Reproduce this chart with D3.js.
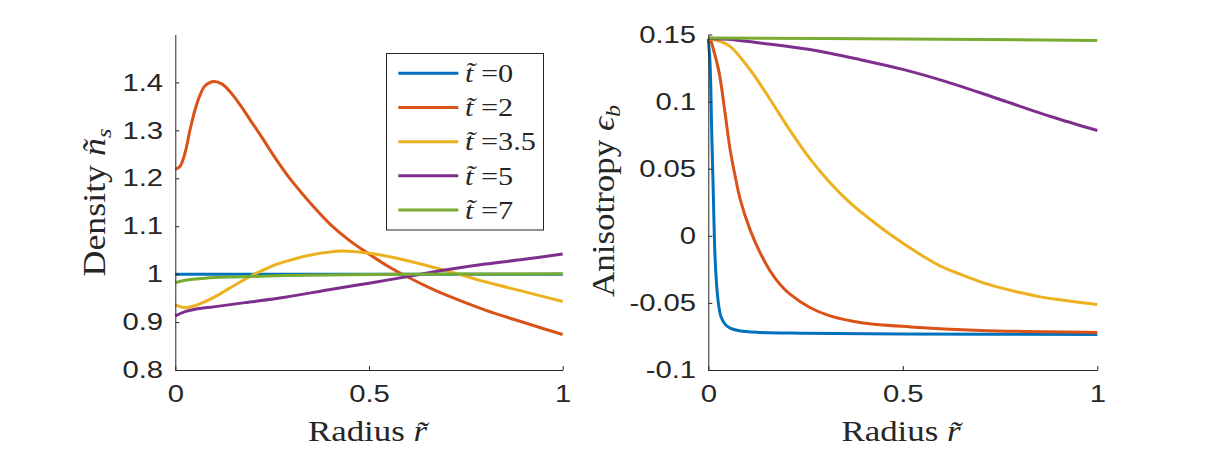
<!DOCTYPE html>
<html>
<head>
<meta charset="utf-8">
<script src="https://cdn.jsdelivr.net/npm/d3@7"></script>
<style>
  body { margin: 0; background: #fff; }
  svg { display: block; }
</style>
</head>
<body>
<svg id="fig" width="1212" height="454"></svg>
<script>
'use strict';

// legend labels and series colours (MATLAB default order)
var timeLabels = ['0', '2', '3.5', '5', '7'];
var seriesColors = ['#0072BD', '#D95319', '#EDB120', '#7E2F8E', '#77AC30'];

// tick values
var radiusTicks = [0, 0.5, 1];
var densityTicks = [0.8, 0.9, 1, 1.1, 1.2, 1.3, 1.4];
var anisotropyTicks = [-0.1, -0.05, 0, 0.05, 0.1, 0.15];

// left panel: density n_s against radius r, one [r, n] list per time
var density_t0 = [[0, 1.0], [0.5, 1.0], [1, 1.0]];
var density_t2 = [[0, 1.219], [0.012, 1.2246], [0.025, 1.2525], [0.038, 1.301], [0.051, 1.343],
  [0.064, 1.374], [0.077, 1.393], [0.098, 1.402], [0.12, 1.397], [0.141, 1.381], [0.167, 1.3535],
  [0.193, 1.322], [0.219, 1.291], [0.244, 1.2595], [0.27, 1.228], [0.3, 1.195], [0.35, 1.147],
  [0.4, 1.104], [0.45, 1.07], [0.5, 1.042], [0.55, 1.016], [0.6, 0.994], [0.65, 0.974],
  [0.7, 0.956], [0.8, 0.925], [0.9, 0.899], [1, 0.874]];
var density_t35 = [[0, 0.9358], [0.025, 0.930], [0.051, 0.9343], [0.077, 0.9427], [0.103, 0.953],
  [0.128, 0.965], [0.154, 0.9775], [0.18, 0.9894], [0.206, 1.0005], [0.232, 1.0103],
  [0.257, 1.0193], [0.283, 1.0262], [0.35, 1.040], [0.43, 1.0484], [0.5, 1.0436], [0.55, 1.037],
  [0.6, 1.028], [0.7, 1.007], [0.8, 0.984], [0.9, 0.9635], [1, 0.943]];
var density_t5 = [[0, 0.9128], [0.025, 0.9218], [0.051, 0.9267], [0.103, 0.9322], [0.18, 0.9406],
  [0.283, 0.9518], [0.4, 0.968], [0.5, 0.981], [0.6, 0.995], [0.7, 1.009], [0.8, 1.021],
  [0.9, 1.031], [1, 1.042]];
var density_t7 = [[0, 0.9824], [0.025, 0.9873], [0.077, 0.9915], [0.154, 0.9942], [0.283, 0.997],
  [0.5, 0.999], [1, 1.001]];

// right panel: anisotropy eps_b against radius r
var aniso_t0 = [[0, 0.1468], [0.0044, 0.129], [0.0087, 0.079], [0.013, 0.0296], [0.0172, -0.015],
  [0.0216, -0.0373], [0.0257, -0.0497], [0.032, -0.0597], [0.043, -0.0658], [0.056, -0.0688],
  [0.08, -0.0708], [0.13, -0.072], [0.24, -0.0726], [0.5, -0.0731], [1, -0.0735]];
var aniso_t2 = [[0, 0.1468], [0.006, 0.1455], [0.013, 0.139], [0.028, 0.1214], [0.043, 0.0917],
  [0.056, 0.0644], [0.069, 0.0445], [0.082, 0.0272], [0.107, 0.0048], [0.133, -0.0125],
  [0.159, -0.0262], [0.184, -0.0361], [0.21, -0.0435], [0.261, -0.0534], [0.313, -0.0597],
  [0.39, -0.0646], [0.52, -0.0679], [0.7, -0.0705], [1, -0.072]];
var aniso_t35 = [[0, 0.1468], [0.03, 0.145], [0.056, 0.1412], [0.107, 0.1239], [0.159, 0.1016],
  [0.21, 0.0785], [0.261, 0.0575], [0.313, 0.0396], [0.364, 0.0247], [0.416, 0.0123],
  [0.467, 0.0011], [0.544, -0.0138], [0.596, -0.0225], [0.647, -0.0286], [0.698, -0.0341],
  [0.75, -0.0386], [0.801, -0.0423], [0.853, -0.0455], [0.904, -0.0477], [0.956, -0.0497],
  [1, -0.0512]];
var aniso_t5 = [[0, 0.1468], [0.05, 0.1465], [0.133, 0.1437], [0.261, 0.1388], [0.39, 0.1313],
  [0.5, 0.124], [0.621, 0.114], [0.75, 0.1016], [0.878, 0.0891], [1, 0.0785]];
var aniso_t7 = [[0, 0.1474], [0.5, 0.1467], [1, 0.1455]];

var ink = '#262626';
var svg = d3.select('#fig');

var panels = [
  { left: 175.3, right: 562.7, domain: [0.8, 1.5], ticks: densityTicks,
    series: [density_t0, density_t2, density_t35, density_t5, density_t7],
    xLabelX: 367.5, yLabelX: 105, yLabelY: 202.5, yLabelLen: 148,
    yLabel: ['Density ', 'ñ', 's'] },
  { left: 708.3, right: 1097.3, domain: [-0.1, 0.15], ticks: anisotropyTicks,
    series: [aniso_t0, aniso_t2, aniso_t35, aniso_t5, aniso_t7],
    xLabelX: 901, yLabelX: 614, yLabelY: 201, yLabelLen: 192,
    yLabel: ['Anisotropy ', 'ϵ', 'b'] }
];
var plotTop = 34.5, plotBottom = 370;

function styleTicks(g) {
  g.attr('color', ink);
  g.selectAll('.domain').attr('stroke-width', 1);
  g.selectAll('.tick line').attr('stroke-width', 1);
  g.selectAll('.tick text')
    .attr('font-family', '"Liberation Sans", Arial, sans-serif')
    .attr('font-size', 24)
    .attr('fill', ink)
    .attr('transform', 'scale(1.22,1)');
}

panels.forEach(function(p) {
  var x = d3.scaleLinear().domain([0, 1]).range([p.left, p.right]);
  var y = d3.scaleLinear().domain(p.domain).range([plotBottom, plotTop]);

  var line = d3.line()
    .x(function(d) { return x(d[0]); })
    .y(function(d) { return y(d[1]); })
    .curve(d3.curveCatmullRom.alpha(0.5));

  p.series.forEach(function(s, i) {
    svg.append('path')
      .datum(s)
      .attr('d', line)
      .attr('fill', 'none')
      .attr('stroke', seriesColors[i])
      .attr('stroke-width', 3)
      .attr('stroke-linejoin', 'round');
  });

  svg.append('g')
    .attr('transform', 'translate(0,' + plotBottom + ')')
    .call(d3.axisBottom(x).tickValues(radiusTicks).tickFormat(String)
      .tickSizeInner(-4).tickSizeOuter(0).tickPadding(15))
    .call(styleTicks);

  svg.append('g')
    .attr('transform', 'translate(' + p.left + ',0)')
    .call(d3.axisLeft(y).tickValues(p.ticks).tickFormat(String)
      .tickSizeInner(-4).tickSizeOuter(0).tickPadding(10))
    .call(styleTicks);

  // x label
  var xl = svg.append('text')
    .attr('font-family', '"Liberation Serif", "Times New Roman", serif')
    .attr('font-size', 29)
    .attr('fill', ink)
    .attr('text-anchor', 'middle');
  xl.append('tspan').text('Radius ');
  xl.append('tspan').attr('font-style', 'italic').text('r\u0303');
  var sx = 122 / xl.node().getBBox().width;
  xl.attr('transform', 'translate(' + p.xLabelX + ',441) scale(' + sx + ',1)');

  // y label
  var yl = svg.append('text')
    .attr('font-family', '"Liberation Serif", "Times New Roman", serif')
    .attr('font-size', 32)
    .attr('fill', ink)
    .attr('text-anchor', 'middle');
  yl.append('tspan').text(p.yLabel[0]);
  yl.append('tspan').attr('font-style', 'italic').text(p.yLabel[1]);
  yl.append('tspan').attr('font-style', 'italic').attr('font-size', 22)
    .attr('dy', 6).text(p.yLabel[2]);
  var sl = p.yLabelLen / yl.node().getBBox().width;
  yl.attr('transform', 'translate(' + p.yLabelX + ',' + p.yLabelY + ') rotate(-90) scale(' + sl + ',1)');
});

// legend (left panel)
var legend = svg.append('g');
legend.append('rect')
  .attr('x', 386.5).attr('y', 53.5)
  .attr('width', 157).attr('height', 176.5)
  .attr('fill', '#fff').attr('stroke', ink).attr('stroke-width', 1);

var rowY = d3.scaleLinear().domain([0, timeLabels.length - 1]).range([73.3, 210]);
var labels = [];
timeLabels.forEach(function(t, i) {
  legend.append('line')
    .attr('x1', 398.3).attr('x2', 458.3)
    .attr('y1', rowY(i)).attr('y2', rowY(i))
    .attr('stroke', seriesColors[i]).attr('stroke-width', 3);
  var lt = legend.append('text')
    .attr('font-family', '"Liberation Serif", "Times New Roman", serif')
    .attr('font-size', 26)
    .attr('fill', ink);
  lt.append('tspan').attr('font-style', 'italic').text('t\u0303');
  lt.append('tspan').text(' =' + t);
  labels.push({ node: lt, y: rowY(i) + 8.8 });
});
var ls = 71 / labels[2].node.node().getBBox().width;
labels.forEach(function(l) {
  l.node.attr('transform', 'translate(465,' + l.y + ') scale(' + ls + ',1)');
});
</script>
</body>
</html>
